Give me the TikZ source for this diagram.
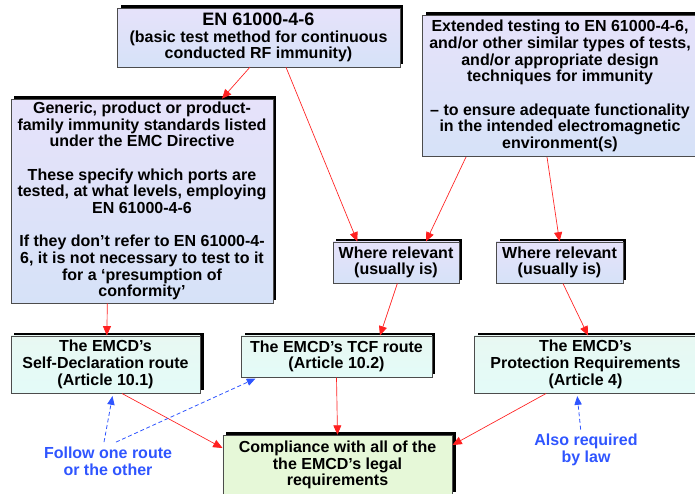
\documentclass[tikz,border=0pt]{standalone}
\usepackage{fontspec}
\setmainfont{Liberation Sans}
\usepackage{tikz}
\usetikzlibrary{arrows.meta,shadows}
\definecolor{lavender}{HTML}{E6E2FA}
\definecolor{paleblue}{HTML}{D6E2F8}
\definecolor{mint}{HTML}{E8F8F2}
\definecolor{palegreen}{HTML}{E6F8D8}
\definecolor{linkred}{HTML}{FF2020}
\definecolor{noteblue}{HTML}{2F55FF}

\begin{document}
\begin{tikzpicture}[x=0.75pt, y=-0.75pt,
    box/.style={draw=black!70, line width=0.5pt, align=center, inner sep=1pt,
      font=\bfseries\fontsize{12}{12.5}\selectfont,
      general shadow={fill=black, shadow xshift=2.5pt, shadow yshift=2.5pt}},
    blue box/.style={box, top color=lavender, bottom color=paleblue},
    mint box/.style={box, top color=mint, bottom color=mint!90!cyan!60!white},
    green box/.style={box, top color=palegreen, bottom color=palegreen},
    link/.style={draw=linkred, line width=0.5pt, -{Triangle[length=7pt,width=6pt,fill=linkred]}},
    hint/.style={draw=noteblue, line width=0.6pt, dash pattern=on 3pt off 2pt, -{Triangle[length=6.5pt,width=5.5pt,fill=noteblue]}, shorten >=2pt},
    note/.style={text=noteblue, align=center, font=\bfseries\fontsize{12}{12.5}\selectfont}]
  \useasboundingbox (0,0) rectangle (695,493);
  % Boxes
  \node[blue box, minimum width=212pt, minimum height=44pt] (en) at (258.5,37.5)
    {{\fontsize{13.5}{12.5}\selectfont EN 61000-4-6}\\(basic test method for continuous\\conducted RF immunity)};
  \node[blue box, minimum width=206pt, minimum height=106pt] (ext) at (560,86)
    {Extended testing to EN 61000-4-6,\\and/or other similar types of tests,\\and/or appropriate design\\techniques for immunity\\[12.5pt]
     -- to ensure adequate functionality\\in the intended electromagnetic\\environment(s)};
  \node[blue box, minimum width=196.5pt, minimum height=153pt] (gen) at (142,201)
    {Generic, product or product-\\family immunity standards listed\\under the EMC Directive\\[12.5pt]
     These specify which ports are\\tested, at what levels, employing\\EN 61000-4-6\\[12.5pt]
     If they don’t refer to EN 61000-4-\\6, it is not necessary to test to it\\for a ‘presumption of\\conformity’};
  \node[blue box, minimum width=94.5pt, minimum height=31pt] (wr1) at (396,262.5)
    {Where relevant\\(usually is)};
  \node[blue box, minimum width=95pt, minimum height=31pt] (wr2) at (559.5,262.5)
    {Where relevant\\(usually is)};
  \node[mint box, minimum width=142pt, minimum height=43pt] (sd) at (105.5,364.5)
    {The EMCD’s\\Self-Declaration route\\(Article 10.1)};
  \node[mint box, minimum width=143pt, minimum height=31pt] (tcf) at (336.5,356.5)
    {The EMCD’s TCF route\\(Article 10.2)};
  \node[mint box, minimum width=167pt, minimum height=43pt] (prot) at (585.5,364.5)
    {The EMCD’s\\Protection Requirements\\(Article 4)};
  \node[green box, minimum width=172pt, minimum height=45pt] (comp) at (337.5,465)
    {Compliance with all of the\\the EMCD’s legal\\requirements};
  % Notes
  \node[note] (follow) at (108,461) {Follow one route\\or the other};
  \node[note] (also) at (586,450) {Also required\\by law};
  % Arrows
  \draw[link] ([xshift=-6.4pt]en.south) -- ([xshift=60pt]gen.north);
  \draw[link] ([xshift=20.6pt]en.south) -- ([xshift=-29pt]wr1.north);
  \draw[link] ([xshift=-70.5pt]ext.south) -- ([xshift=22.5pt]wr1.north);
  \draw[link] ([xshift=-9.75pt]ext.south) -- (wr2.north);
  \draw[link] ([xshift=-26pt]gen.south) -- ([xshift=1pt]sd.north);
  \draw[link] ([xshift=1pt]wr1.south) -- ([xshift=32.6pt]tcf.north);
  \draw[link] ([xshift=2.6pt]wr2.south) -- ([xshift=1.9pt]prot.north);
  \draw[link] ([xshift=12.4pt]sd.south) -- ([yshift=12.75pt]comp.west);
  \draw[link] (tcf.south) -- (comp.north);
  \draw[link] ([xshift=-29.6pt]prot.south) -- ([yshift=15pt]comp.east);
  % Dashed hints
  \draw[hint] ([xshift=-3pt]follow.north) -- ([xshift=5.6pt]sd.south);
  \draw[hint] ([xshift=6pt]follow.north) -- ([xshift=-59pt]tcf.south);
  \draw[hint] ([xshift=-4pt]also.north) -- ([xshift=-6.4pt]prot.south);
\end{tikzpicture}
\end{document}
